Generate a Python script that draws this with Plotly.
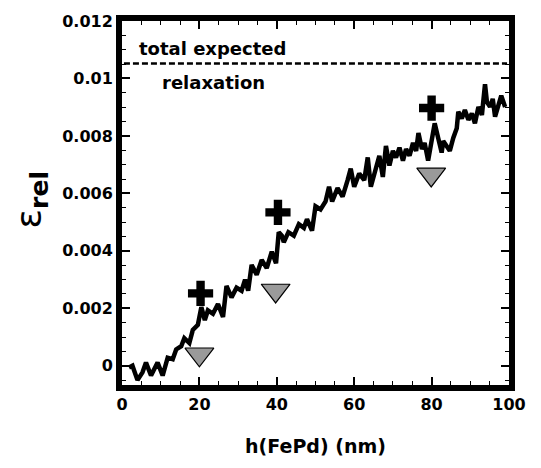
import plotly.graph_objects as go

# thickness h(FePd) in nm and relaxed strain
H = [1.8, 2.7, 4.0, 5.3, 6.2, 7.5, 9.2, 10.5, 11.8, 13.1, 14.0, 15.3, 16.1, 17.4, 18.3, 19.6,
     20.5, 21.4, 22.2, 23.5, 24.8, 26.1, 27.0, 28.3, 29.6, 30.9, 31.8, 32.6, 33.5, 34.8, 36.1,
     37.4, 38.7, 39.8, 40.5, 41.3, 41.8, 43.0, 44.4, 45.7, 47.0, 47.8, 49.1, 50.0, 51.3, 52.6,
     53.5, 54.3, 55.7, 57.0, 58.3, 59.1, 60.0, 61.3, 62.6, 63.5, 64.3, 65.6, 66.5, 67.4, 68.2,
     69.1, 70.0, 70.8, 71.7, 72.6, 73.4, 74.3, 75.2, 76.0, 76.6, 77.5, 78.2, 79.1, 80.0, 80.8,
     81.7, 82.6, 83.0, 83.9, 84.7, 85.6, 86.5, 86.9, 87.8, 88.6, 89.5, 90.4, 91.2, 92.1, 93.0,
     93.8, 94.3, 95.1, 95.8, 96.4, 97.3, 98.0, 99.0]
EPS = [-0.00006, 0.0, -0.0005, -0.00023, 0.00011, -0.00034, 0.00011, -0.00034, 0.00028, 0.00023,
       0.00057, 0.00068, 0.00096, 0.00079, 0.00125, 0.00142, 0.00204, 0.00159, 0.00193, 0.00181,
       0.00215, 0.0017, 0.00278, 0.00238, 0.00272, 0.00261, 0.003, 0.00261, 0.00351, 0.00317,
       0.00368, 0.0034, 0.00397, 0.00357, 0.00465, 0.00453, 0.0043, 0.00465, 0.00453, 0.00493,
       0.0048, 0.0051, 0.0047, 0.00555, 0.00544, 0.00572, 0.00623, 0.00572, 0.00618, 0.00589,
       0.00646, 0.00686, 0.00623, 0.00669, 0.00646, 0.00725, 0.00623, 0.00691, 0.00731, 0.00657,
       0.00765, 0.00697, 0.00748, 0.00725, 0.00759, 0.00714, 0.00754, 0.00731, 0.00776, 0.00748,
       0.0081, 0.00754, 0.00776, 0.00714, 0.00793, 0.00844, 0.00793, 0.00742, 0.00782, 0.00765,
       0.00748, 0.00793, 0.00827, 0.00884, 0.00861, 0.0089, 0.00856, 0.00878, 0.00844, 0.00901,
       0.00873, 0.0098, 0.00918, 0.00901, 0.00929, 0.00867, 0.00912, 0.0094, 0.00901]

# marker annotations
PLUS_H = [20.3, 40.3, 80.0]
PLUS_EPS = [0.00252, 0.00534, 0.00897]
TRI_H = [20.0, 39.7, 79.9]
TRI_EPS = [0.0004, 0.00262, 0.00666]

# total expected relaxation level
EXPECTED_H = [0.5, 99.5]
EXPECTED_EPS = [0.01052, 0.01052]

Y_TICKS = [0, 0.002, 0.004, 0.006, 0.008, 0.010, 0.012]
Y_TICKTEXT = ["0", "0.002", "0.004", "0.006", "0.008", "0.01", "0.012"]
X_TICKS = [0, 20, 40, 60, 80, 100]

FONT = "DejaVu Sans"

fig = go.Figure()
fig.add_trace(go.Scatter(x=EXPECTED_H, y=EXPECTED_EPS, mode="lines",
                         line=dict(color="black", width=2.5, dash="6px,3px"),
                         showlegend=False, hoverinfo="skip"))
fig.add_trace(go.Scatter(x=H, y=EPS, mode="lines",
                         line=dict(color="black", width=4.5),
                         showlegend=False))
fig.add_trace(go.Scatter(x=PLUS_H, y=PLUS_EPS, mode="markers",
                         marker=dict(symbol="cross", size=21, color="black",
                                     line=dict(width=0)),
                         showlegend=False))
fig.add_trace(go.Scatter(x=TRI_H, y=TRI_EPS, mode="markers",
                         marker=dict(symbol="triangle-down", size=25, color="#9a9a9a",
                                     line=dict(color="black", width=1.2)),
                         showlegend=False))

fig.add_annotation(x=3.9, y=0.01106, xref="x", yref="y", text="total expected",
                   showarrow=False, xanchor="left", yanchor="middle",
                   font=dict(family=FONT, size=18, color="black", weight="bold"))
fig.add_annotation(x=9.8, y=0.00985, xref="x", yref="y", text="relaxation",
                   showarrow=False, xanchor="left", yanchor="middle",
                   font=dict(family=FONT, size=18, color="black", weight="bold"))

# y-axis title
fig.add_annotation(x=-0.235, y=0.51, xref="paper", yref="paper",
                   text="<span style='font-weight:normal'>ε</span><b><sub>rel</sub></b>",
                   textangle=-90, showarrow=False, xanchor="center", yanchor="middle",
                   font=dict(family=FONT, size=36, color="black"))

axis_common = dict(
    showline=True, linecolor="black", linewidth=6, mirror="allticks",
    ticks="inside", ticklen=8, tickwidth=1.5, tickcolor="black",
    showgrid=False, zeroline=False,
    tickfont=dict(family=FONT, size=16, color="black", weight="bold"),
)

fig.update_xaxes(range=[0, 100], tickvals=X_TICKS,
                 minor=dict(dtick=5, ticks="inside", ticklen=4, tickwidth=1.2,
                            tickcolor="black", showgrid=False),
                 title=dict(text="h(FePd) (nm)", standoff=28,
                            font=dict(family=FONT, size=19, color="black", weight="bold")),
                 **axis_common)
fig.update_yaxes(range=[-0.00067, 0.012], tickvals=Y_TICKS, ticktext=Y_TICKTEXT,
                 minor=dict(dtick=0.0005, tick0=0, ticks="inside", ticklen=4, tickwidth=1.2,
                            tickcolor="black", showgrid=False),
                 **axis_common)

fig.update_layout(width=541, height=468,
                  margin=dict(l=122, r=32, t=16, b=78, pad=0),
                  plot_bgcolor="white", paper_bgcolor="white",
                  showlegend=False)

fig.write_html("out.html")
